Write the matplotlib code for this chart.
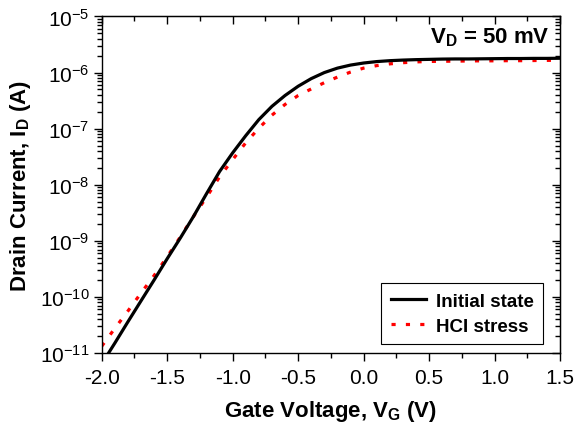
import numpy as np
import matplotlib
matplotlib.use("Agg")
import matplotlib.pyplot as plt
from matplotlib.ticker import LogLocator, MultipleLocator, NullFormatter, FormatStrFormatter

plt.rcParams['font.family'] = ['Liberation Sans', 'DejaVu Sans']
plt.rcParams['mathtext.fontset'] = 'custom'
plt.rcParams['mathtext.rm'] = 'Liberation Sans'
plt.rcParams['mathtext.bf'] = 'Liberation Sans:bold'
plt.rcParams['axes.unicode_minus'] = False

# Initial state (black, solid)
vg_init = [-1.95, -1.9, -1.8, -1.7, -1.6, -1.5, -1.4, -1.3, -1.2, -1.1, -1.0,
           -0.9, -0.8, -0.7, -0.6, -0.5, -0.4, -0.3, -0.2, -0.1, 0.0,
           0.1, 0.2, 0.3, 0.4, 0.5, 0.6, 0.7, 0.8, 0.9, 1.0,
           1.1, 1.2, 1.3, 1.4, 1.5]
id_init = [9.8e-12, 1.5e-11, 3.6e-11, 8.5e-11, 2.0e-10, 4.8e-10, 1.12e-9, 2.7e-9, 6.9e-9, 1.72e-8, 3.7e-8,
           7.5e-8, 1.45e-7, 2.5e-7, 3.9e-7, 5.7e-7, 7.8e-7, 1.0e-6, 1.20e-6, 1.36e-6, 1.48e-6,
           1.57e-6, 1.63e-6, 1.67e-6, 1.70e-6, 1.72e-6, 1.74e-6, 1.75e-6, 1.75e-6, 1.76e-6, 1.77e-6,
           1.78e-6, 1.78e-6, 1.79e-6, 1.79e-6, 1.80e-6]

# After HCI stress (red, dotted)
vg_hci = [-2.0, -1.9, -1.8, -1.7, -1.6, -1.5, -1.4, -1.3, -1.2, -1.1, -1.0,
          -0.9, -0.8, -0.7, -0.6, -0.5, -0.4, -0.3, -0.2, -0.1, 0.0,
          0.1, 0.2, 0.3, 0.4, 0.5, 0.6, 0.7, 0.8, 0.9, 1.0,
          1.1, 1.2, 1.3, 1.4, 1.5]
id_hci = [1.32e-11, 2.75e-11, 5.6e-11, 1.17e-10, 2.4e-10, 5.2e-10, 1.17e-9, 2.7e-9, 6.0e-9, 1.38e-8, 2.8e-8,
          5.6e-8, 1.02e-7, 1.74e-7, 2.7e-7, 3.9e-7, 5.1e-7, 6.6e-7, 8.3e-7, 1.02e-6, 1.20e-6,
          1.33e-6, 1.43e-6, 1.50e-6, 1.55e-6, 1.58e-6, 1.59e-6, 1.60e-6, 1.61e-6, 1.62e-6, 1.62e-6,
          1.63e-6, 1.63e-6, 1.64e-6, 1.65e-6, 1.66e-6]

fig = plt.figure(figsize=(5.77, 4.35), dpi=100)
ax = fig.add_axes([0.1763, 0.1862, 0.7942, 0.7736])

ax.plot(vg_init, id_init, color='black', lw=2.3, label='Initial state', zorder=3)
ax.plot(vg_hci, id_hci, color='red', lw=2.3, dashes=(1.3, 3.2), label='HCI stress', zorder=2)

ax.set_yscale('log')
ax.set_xlim(-2.0, 1.5)
ax.set_ylim(1e-11, 1e-5)

ax.xaxis.set_major_locator(MultipleLocator(0.5))
ax.xaxis.set_minor_locator(MultipleLocator(0.25))
ax.yaxis.set_major_locator(LogLocator(base=10, numticks=10))
ax.yaxis.set_minor_locator(LogLocator(base=10, subs=np.arange(2, 10), numticks=10))
ax.yaxis.set_minor_formatter(NullFormatter())
ax.xaxis.set_major_formatter(FormatStrFormatter('%.1f'))

ax.tick_params(which='both', direction='out', labelsize=15, width=1.0)
ax.tick_params(which='major', length=6)
ax.tick_params(which='minor', length=3.5)
ax.tick_params(axis='x', pad=5)
ax.tick_params(axis='y', pad=3)

# mirrored top/right axes with inward ticks
top = ax.secondary_xaxis('top')
top.xaxis.set_major_locator(MultipleLocator(0.5))
top.xaxis.set_minor_locator(MultipleLocator(0.25))
top.tick_params(which='both', direction='in', labeltop=False, width=1.0)
top.tick_params(which='major', length=6)
top.tick_params(which='minor', length=3.5)

right = ax.secondary_yaxis('right', functions=(lambda y: y, lambda y: y))
right.set_yscale('log')
right.yaxis.set_major_locator(LogLocator(base=10, numticks=10))
right.yaxis.set_minor_locator(LogLocator(base=10, subs=np.arange(2, 10), numticks=10))
right.tick_params(which='both', direction='in', labelright=False, width=1.0)
right.tick_params(which='major', length=6)
right.tick_params(which='minor', length=3.5)

for s in ax.spines.values():
    s.set_linewidth(1.0)

ax.set_xlabel(r'Gate Voltage, V$_\mathbf{G}$ (V)', fontsize=16, fontweight='bold', labelpad=8)
ax.set_ylabel(r'Drain Current, I$_\mathbf{D}$ (A)', fontsize=16, fontweight='bold', labelpad=5)

ax.text(0.978, 0.94, r'V$_\mathbf{D}$ = 50 mV', transform=ax.transAxes,
        ha='right', va='center', fontsize=16, fontweight='bold')

leg = ax.legend(loc='lower right', bbox_to_anchor=(0.963, 0.027), borderaxespad=0,
                prop={'weight': 'bold', 'size': 13.5}, fancybox=False, edgecolor='black',
                framealpha=1, handlelength=1.9, handletextpad=0.5, borderpad=0.5,
                labelspacing=0.4)
leg.get_frame().set_linewidth(0.8)

fig.savefig('out.png', dpi=100)
